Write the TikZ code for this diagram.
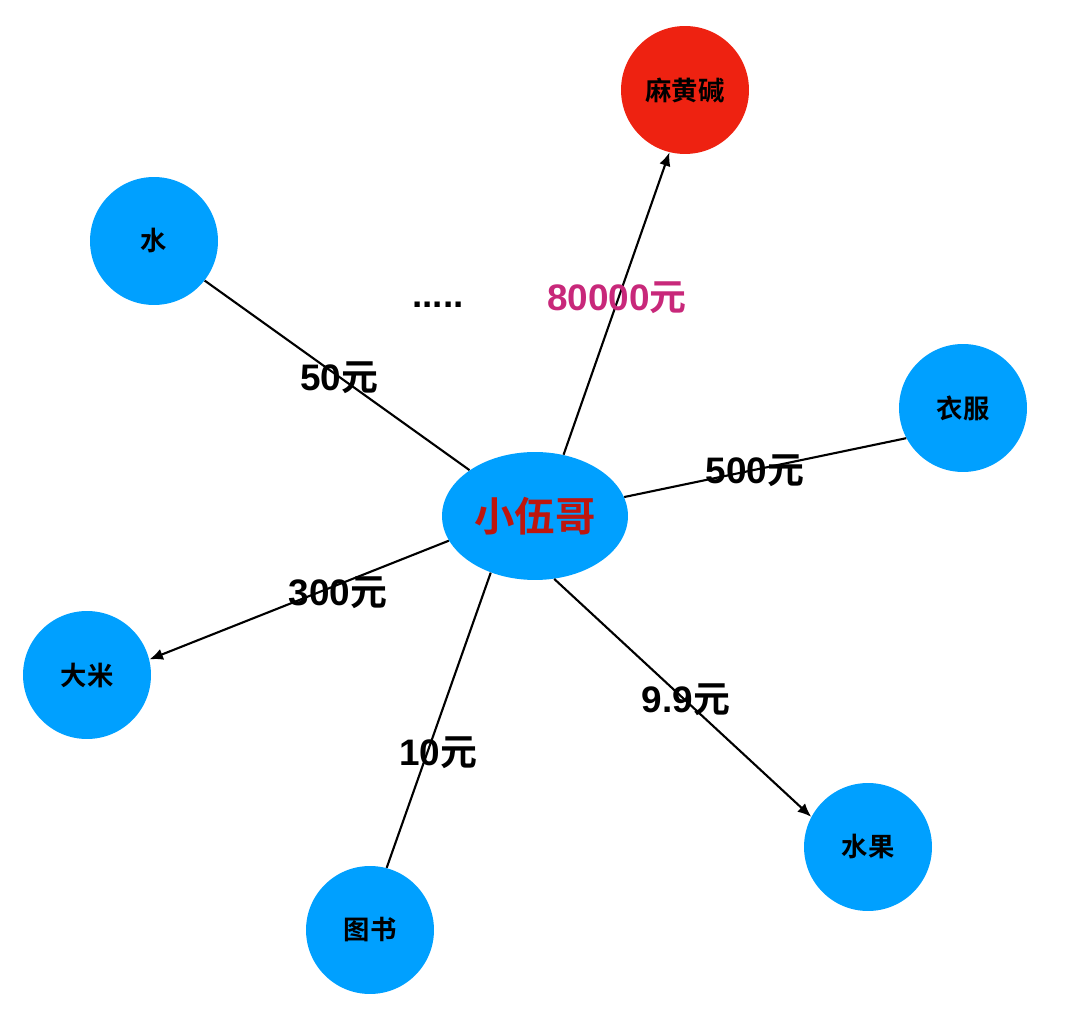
\documentclass[tikz,border=0pt]{standalone}
\usepackage{fontspec}
\setmainfont{Liberation Sans}
\newfontfamily\cjk{Noto Sans CJK SC}[BoldFont={Noto Sans CJK SC Bold}]
\usetikzlibrary{arrows.meta,positioning,shapes.geometric}
\definecolor{nodeblue}{RGB}{0,160,255}
\definecolor{nodered}{RGB}{238,34,17}
\definecolor{hubred}{RGB}{190,22,14}
\definecolor{pricepink}{RGB}{200,40,122}

\begin{document}
\begin{tikzpicture}[
    x=0.02cm, y=-0.02cm,
    item/.style={circle, fill=nodeblue, minimum size=2.56cm, inner sep=0pt, font=\cjk\bfseries\fontsize{15}{18}\selectfont},
    hub/.style={ellipse, fill=nodeblue, minimum width=3.72cm, minimum height=2.56cm, inner sep=0pt, text=hubred, font=\cjk\bfseries\fontsize{23}{28}\selectfont},
    price/.style={font=\bfseries\fontsize{21}{25}\selectfont, inner sep=0pt},
    link/.style={line width=1.2pt},
    arrow/.style={-{Latex[length=2.7mm,width=2.3mm]}, line width=1.2pt}
]
\useasboundingbox (0,0) rectangle (1078,1026);

\node[hub] (me) at (535,516) {小伍哥};
\node[item, fill=nodered] (mhj) at (685,90) {麻黄碱};
\node[item] (water) at (154,241) {水};
\node[item] (cloth) at (963,408) {衣服};
\node[item] (rice) at (87,675) {大米};
\node[item] (book) at (370,930) {图书};
\node[item] (fruit) at (868,847) {水果};

\draw[arrow] (me.65) -- (mhj.256);
\draw[link] (me.145) -- (water.322);
\draw[link] (me.12) -- (cloth.208);
\draw[arrow] (me.196) -- (rice.14);
\draw[link] (me.232) -- (book.75);
\draw[arrow] (me.287) -- (fruit.152);

\node[price] (dots) at (438,305) {.....};
\node[price, text=pricepink] (p80000) at (617,298) {80000{\cjk\bfseries 元}};
\node[price] (p50) at (339,378) {50{\cjk\bfseries 元}};
\node[price] (p500) at (755,471) {500{\cjk\bfseries 元}};
\node[price] (p300) at (338,593) {300{\cjk\bfseries 元}};
\node[price] (p99) at (686,700) {9.9{\cjk\bfseries 元}};
\node[price] (p10) at (438,753) {10{\cjk\bfseries 元}};
\end{tikzpicture}
\end{document}
